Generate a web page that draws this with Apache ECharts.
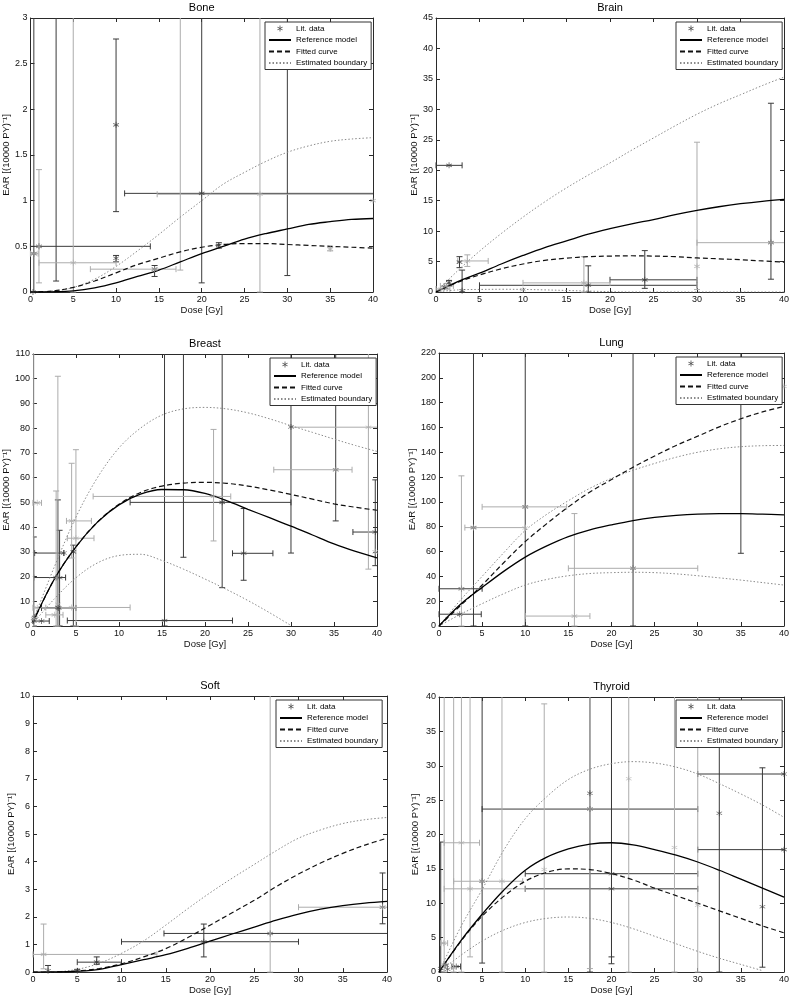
<!DOCTYPE html>
<html><head><meta charset="utf-8">
<script src="https://cdn.jsdelivr.net/npm/echarts/dist/echarts.min.js"></script>
<style>html,body{margin:0;padding:0;background:#fff}#c{width:792px;height:996px}</style>
</head><body><div id="c"></div>
<script>
// ---------- DATA ----------
const doses = [0,2.5,5,7.5,10,12.5,15,17.5,20,22.5,25,27.5,30,32.5,35,37.5,40];
const legendNames = ['Lit. data','Reference model','Fitted curve','Estimated boundary'];
const titles = ['Bone','Brain','Breast','Lung','Soft','Thyroid'];
const xName = 'Dose [Gy]';
const yName = 'EAR [(10000 PY)\u207B\u00B9]';
const yMaxes = [3,45,110,220,10,40];
const yIntervals = [0.5,5,10,20,1,5];

const boneRef = [0,0.002,0.012,0.045,0.1,0.17,0.24,0.33,0.42,0.5,0.58,0.64,0.69,0.74,0.77,0.795,0.805];
const boneFit = [0,0.01,0.05,0.12,0.21,0.3,0.37,0.44,0.49,0.52,0.53,0.53,0.52,0.51,0.5,0.49,0.48];
const boneUp  = [0,0.01,0.05,0.14,0.28,0.45,0.63,0.82,1.0,1.18,1.31,1.43,1.53,1.6,1.65,1.675,1.69];
const boneLow = null;

const brainRef = [0,1.7,3.1,4.6,6.0,7.3,8.4,9.5,10.4,11.2,11.9,12.7,13.4,14.0,14.5,14.9,15.2];
const brainFit = [0,1.6,2.8,3.8,4.6,5.2,5.55,5.8,5.9,5.95,5.9,5.8,5.6,5.45,5.3,5.1,4.9];
const brainUp  = [0,3.5,6.7,9.6,12.3,14.8,17.1,19.2,21.2,23.3,25.3,27.3,29.2,30.9,32.4,33.9,35.3];
const brainLow = [0,0.35,0.42,0.45,0.42,0.35,0.25,0.15,0.05,0,0,0,0,0,0,0,0];

const breastRef = [1.5,19,32,42,49,53.3,55.2,55.1,53.6,50.7,47.2,43.8,40.4,36.8,33.2,30.2,27.6];
const breastFit = [1.5,19,32,42,49.2,54,56.6,57.8,58.1,57.7,56.6,55,53.2,51.3,49.4,48,46.8];
const breastUp  = [2,24,44,60,72,80,85.3,87.8,88.4,87.8,86.2,83.8,81,78.3,75.6,73,70.6];
const breastLow = [1,11,19.5,25.5,28.5,29,26.5,23,19,14.8,10.3,5.4,0.2,null,null,null,null];

const lungRef = [0,17.5,31,44,55.5,64.5,72,77.5,81.5,85,87.5,89.2,90.2,90.5,90.5,90.1,89.5];
const lungFit = [0,16.5,33,51,68,82.5,96,108,118,128,137,145.5,153,160.5,167,172.5,177];
const lungUp  = [0,21,40,59,77,90,101,111,119,125.5,131,136,140,142.8,144.5,145.3,145.5];
const lungLow = [0,9.5,18,26,33,37.5,40.5,42.3,43,43.3,43,42,40.5,38.8,37,35,33];

const softRef = [0,0.003,0.03,0.1,0.27,0.45,0.63,0.86,1.12,1.38,1.63,1.88,2.1,2.28,2.41,2.5,2.56];
const softFit = [0,0.005,0.04,0.13,0.3,0.55,0.85,1.25,1.7,2.15,2.6,3.1,3.55,3.95,4.3,4.6,4.85];
const softUp  = [0,0.01,0.1,0.32,0.68,1.13,1.7,2.3,2.87,3.4,3.9,4.4,4.85,5.15,5.38,5.52,5.6];
const softLow = null;

const thyRef = [0,4.5,8.4,11.9,14.8,16.7,17.9,18.6,18.8,18.5,17.8,17.0,16.0,14.8,13.5,12.2,10.9];
const thyFit = [0,4.4,8.1,11.0,13.2,14.5,15.0,14.9,14.3,13.4,12.2,11.1,10.0,8.9,7.8,6.7,5.7];
const thyUp  = [0,6.5,12,17.7,22.3,25.5,28,29.5,30.3,30.6,30.4,29.8,28.8,27.4,25.9,24.3,22.5];
const thyLow = [0,2.4,4.5,6.1,7.2,7.8,8.0,7.8,7.2,6.3,5.2,4.1,3.0,2.0,1.1,0.2,null];

// literature points: [dose, EAR, EAR low, EAR high, dose low, dose high]; group A / group B
const boneA = [[0.4,0.42,0,99,null,null],[1.0,0.5,null,null,0,14],[3,9,0.12,99,null,null],[10,1.83,0.88,2.77,null,null],
  [10,0.37,0.33,0.40,null,null],[14.5,0.25,0.17,0.29,null,null],[20,1.08,0.1,99,11,99],[22,0.51,0.48,0.54,null,null],
  [30,9,0.18,99,null,null],[0.3,0.0,null,null,null,null]];
const boneB = [[0.4,0.42,null,null,0,0.9],[1.0,0.5,0.1,1.34,null,null],[5,0.32,0,99,1,10],[14.5,0.25,null,null,7,17],
  [17.5,9,0.24,99,null,null],[26.8,1.07,0,99,14.8,99],[35,0.47,0.45,0.49,null,null],[40,1.0,null,null,null,null]];

const brainA = [[1.5,20.8,null,null,0,3],[2.7,4.9,4.0,5.8,null,null],[3,0.2,0,3.6,null,null],[1.5,1.5,1.0,1.9,null,null],
  [1.0,0.8,null,null,null,null],[17.5,1.1,0,4.3,5,30],[24,2.0,0.6,6.8,20,30],[38.5,8.1,2.1,31,null,null]];
const brainB = [[3.6,5.1,4.2,6.1,2.5,6],[0.6,0.5,null,null,0,1.6],[1.2,1.0,0.5,1.4,0.5,2.0],[10,0.4,null,null,null,null],
  [17,1.5,0,5.8,10,20],[30,4.2,0.4,24.6,null,null],[38.5,8.1,null,null,30,99]];

const breastA = [[0.1,2,0,36,null,null],[3.6,29.5,null,null,0.2,3.6],[2.7,19.6,null,null,0.1,3.8],[2.9,7.5,0,51,null,null],
  [3.1,19.5,0,38.7,null,null],[1.0,2.0,null,null,0,1.9],[3.0,7.3,null,null,1.0,5.0],[4.7,30,0,32.7,null,null],
  [15.3,2.2,0,999,4.0,23.2],[17.5,999,27.8,999,null,null],[22,50,15.5,999,11.3,30],[24.5,29.4,18.5,47.5,23.2,27.9],
  [30,80.5,29.5,999,null,null],[35.2,63.2,42.5,999,null,null],[39.8,38,24.4,59.1,37.2,99],[0.2,3.5,null,null,null,null]];
const breastB = [[0.1,3,0,999,null,null],[0.5,49.8,null,null,0,1.0],[2.7,19.6,0,54.6,null,null],[2.9,8.8,0,101,null,null],
  [2.5,4.5,null,null,1.5,3.5],[0.5,7.4,null,null,0,1.5],[4.5,7.5,null,null,3.0,11.3],[4.5,42.5,27.5,65.8,3.9,6.8],
  [5.0,35.5,0,71.3,4.0,7.1],[21,52.4,34.4,79.5,7.0,23.0],[35.2,63.2,null,null,28,37.1],[39,80.4,23,999,30,99],
  [39.8,30,null,null,null,null]];

const lungA = [[2.6,30,null,null,0,5],[2.4,9.5,null,null,0,4.9],[4,79.3,0,999,null,null],[10,96,0,999,null,null],
  [22.5,46.5,0,999,null,null],[35,999,58.6,999,null,null]];
const lungB = [[2.6,30,0,121,null,null],[4,79.3,null,null,3,10],[10,96,null,null,5,14.8],[10,79,null,null,null,null],
  [15.7,8,0,90.6,10,17.5],[22.5,46.5,null,null,15,30],[40,193,null,null,null,null]];

const softA = [[1.7,0.05,0,0.24,null,null],[5,0.05,0,0.1,null,null],[7.2,0.36,0.28,0.55,5,10],[19.3,1.1,0.55,1.74,10,30],
  [26.8,1.4,null,null,14.8,99],[39.5,2.35,1.75,3.59,null,null]];
const softB = [[1.2,0.64,0.12,1.74,0,14],[26.8,1.4,0,99,null,null],[39.5,2.35,null,null,30,99]];

const thyA = [[0.2,0.5,0,18.9,null,null],[5,13.2,1.3,99,null,null],[17.5,26,0,99,null,null],[17.5,23.7,null,null,5,30],
  [20,14.3,2.2,99,10,30],[20,12.1,1.2,99,10,30],[32.5,23.1,0,99,null,null],[37.5,9.5,0.7,29.7,null,null],
  [40,17.8,null,null,30,99],[40,28.8,null,null,30,99],[2,0.8,null,null,1.5,2.5],[0.8,1.0,null,null,null,null],[1.0,0.4,null,null,null,null]];
const thyB = [[2.6,18.8,0,99,0.6,4.7],[3.6,12.1,2.2,99,0.6,10],[5,13.2,null,null,1.7,9.7],[7.3,13.2,0,99,null,null],
  [12.2,14.9,0,39,null,null],[17.5,23.7,0.5,99,null,null],[22,28.1,0,99,null,null],[27.3,18.1,0,99,null,null],
  [30,9.7,0,99,null,null],[0.5,4.2,null,null,0.2,1.0],[1.7,0.6,0,99,null,null],[0.6,1.1,0,99,null,null]];

// ---------- LAYOUT / STYLE ----------
const FONT = "'Liberation Sans', Arial, Helvetica, sans-serif";
const AX = '#2a2a2a', DARK = '#3a3a3a', LIGHT = '#acacac', DOT = '#8a8a8a';
const STAR = 'path://M4.4,0H5.6V10H4.4Z M0.97,1.98L9.63,6.98L9.03,8.02L0.37,3.02Z M0.37,6.98L9.03,1.98L9.63,3.02L0.97,8.02Z';
const grids = [
  {left:26, top:18, width:347, height:274, yGap:15, lg:[265,22]},
  {left:436,top:18, width:350, height:274, yGap:15, lg:[676,22]},
  {left:32, top:354,width:345, height:272, yGap:12, lg:[270,358]},
  {left:439,top:353,width:347, height:273, yGap:19, lg:[676,357]},
  {left:33, top:696,width:354, height:277, yGap:13, lg:[276,700]},
  {left:439,top:697,width:347, height:275, yGap:19, lg:[676,700]}
];
const panelData = [
  [boneRef,boneFit,boneUp,boneLow,boneA,boneB],
  [brainRef,brainFit,brainUp,brainLow,brainA,brainB],
  [breastRef,breastFit,breastUp,breastLow,breastA,breastB],
  [lungRef,lungFit,lungUp,lungLow,lungA,lungB],
  [softRef,softFit,softUp,softLow,softA,softB],
  [thyRef,thyFit,thyUp,thyLow,thyA,thyB]
];

function errRender(pts, col){
  return function(params, api){
    const p = pts[api.value(2)];
    const cs = params.coordSys;
    const x0 = cs.x, x1 = cs.x + cs.width, y0 = cs.y, y1 = cs.y + cs.height;
    const kids = [];
    const seg = (ax,ay,bx,by)=>kids.push({type:'line', shape:{x1:ax,y1:ay,x2:bx,y2:by}, style:{stroke:col, lineWidth:1}, silent:true});
    const cl = (v,a,b)=>Math.max(a, Math.min(b, v));
    const c = api.coord([p[0], p[1]]);
    if (p[2] != null) {
      const px = c[0];
      const lo = api.coord([p[0], p[2]])[1], hi = api.coord([p[0], p[3]])[1];
      if (px >= x0 - 0.5 && px <= x1 + 0.5) {
        const a = cl(lo,y0,y1), b = cl(hi,y0,y1);
        if (Math.abs(a-b) > 0.1) seg(px,a,px,b);
        if (lo >= y0 && lo <= y1) seg(Math.max(x0,px-3),lo,Math.min(x1,px+3),lo);
        if (hi >= y0 && hi <= y1) seg(Math.max(x0,px-3),hi,Math.min(x1,px+3),hi);
      }
    }
    if (p[4] != null) {
      const py = c[1];
      const lo = api.coord([p[4], p[1]])[0], hi = api.coord([p[5], p[1]])[0];
      if (py >= y0 - 0.5 && py <= y1 + 0.5) {
        const a = cl(lo,x0,x1), b = cl(hi,x0,x1);
        if (Math.abs(a-b) > 0.1) seg(a,py,b,py);
        if (lo >= x0 && lo <= x1) seg(lo,Math.max(y0,py-3),lo,Math.min(y1,py+3));
        if (hi >= x0 && hi <= x1) seg(hi,Math.max(y0,py-3),hi,Math.min(y1,py+3));
      }
    }
    return {type:'group', children:kids};
  };
}

const option = {animation:false, backgroundColor:'#fff', grid:[], xAxis:[], yAxis:[], legend:[], series:[]};
const tickStyle = {inside:true, length:4, lineStyle:{color:AX, width:1}};
const lineStyleAx = {onZero:false, lineStyle:{color:AX, width:1}};
grids.forEach((g,i)=>{
  option.grid.push({left:g.left, top:g.top, width:g.width, height:g.height, containLabel:false, show:false});
  option.xAxis.push({gridIndex:i, type:'value', min:0, max:40, interval:5, position:'bottom',
    name:xName, nameLocation:'middle', nameGap:12,
    nameTextStyle:{fontSize:9.5, color:'#111', fontFamily:FONT},
    axisLine:lineStyleAx, axisTick:tickStyle, splitLine:{show:false},
    axisLabel:{fontSize:9, color:'#111', margin:3, fontFamily:FONT}});
  option.xAxis.push({gridIndex:i, type:'value', min:0, max:40, interval:5, position:'top',
    name:titles[i], nameLocation:'middle', nameGap:5,
    nameTextStyle:{fontSize:11, color:'#000', fontFamily:FONT},
    axisLine:lineStyleAx, axisTick:tickStyle, splitLine:{show:false}, axisLabel:{show:false}});
  option.yAxis.push({gridIndex:i, type:'value', min:0, max:yMaxes[i], interval:yIntervals[i], position:'left',
    name:yName, nameLocation:'middle', nameGap:g.yGap,
    nameTextStyle:{fontSize:9.5, color:'#111', fontFamily:FONT},
    axisLine:lineStyleAx, axisTick:tickStyle, splitLine:{show:false},
    axisLabel:{fontSize:9, color:'#111', margin:3, fontFamily:FONT}});
  option.yAxis.push({gridIndex:i, type:'value', min:0, max:yMaxes[i], interval:yIntervals[i], position:'right',
    axisLine:lineStyleAx, axisTick:tickStyle, splitLine:{show:false}, axisLabel:{show:false}});

  const xi = i*2, yi = i*2;
  const [ref, fit, up, low, A, B] = panelData[i];
  const pairs = arr => doses.map((d,k)=>[d, arr[k]]);
  [[A,DARK],[B,LIGHT]].forEach(([pts,col])=>{
    option.series.push({type:'custom', name:'err', xAxisIndex:xi, yAxisIndex:yi, silent:true, z:1,
      data: pts.map((p,k)=>[p[0], p[1], k]), renderItem: errRender(pts, col)});
  });
  const lineCommon = {xAxisIndex:xi, yAxisIndex:yi, smooth:0.35, symbol:'none', showSymbol:false, silent:true};
  option.series.push(Object.assign({type:'line', name:'Estimated boundary', data:pairs(up), z:2,
    itemStyle:{color:DOT, opacity:0}, lineStyle:{color:DOT, width:1, type:[1.5,2]}}, lineCommon));
  if (low) option.series.push(Object.assign({type:'line', name:'Estimated boundary', data:pairs(low), z:2,
    itemStyle:{color:DOT, opacity:0}, lineStyle:{color:DOT, width:1, type:[1.5,2]}}, lineCommon));
  option.series.push(Object.assign({type:'line', name:'Fitted curve', data:pairs(fit), z:3,
    itemStyle:{color:'#111', opacity:0}, lineStyle:{color:'#111', width:1.2, type:[5,3]}}, lineCommon));
  option.series.push(Object.assign({type:'line', name:'Reference model', data:pairs(ref), z:3,
    itemStyle:{color:'#000', opacity:0}, lineStyle:{color:'#000', width:1.3}}, lineCommon));
  option.series.push({type:'scatter', name:'Lit. data', xAxisIndex:xi, yAxisIndex:yi, symbol:STAR, symbolSize:6,
    silent:true, z:4, itemStyle:{color:DARK},
    data: A.map(p=>({value:[p[0],p[1]], itemStyle:{color:DARK}})).concat(B.map(p=>({value:[p[0],p[1]], itemStyle:{color:LIGHT}})))});

  option.legend.push({left:g.lg[0], top:g.lg[1], orient:'vertical', selectedMode:false,
    data:[{name:legendNames[0], icon:STAR, itemStyle:{color:DARK, opacity:1}}, legendNames[1], legendNames[2], legendNames[3]],
    itemWidth:22, itemHeight:6, itemGap:2.5, padding:[2,4,2,3], borderColor:'#333', borderWidth:1, borderRadius:0,
    backgroundColor:'#fff', z:10, itemStyle:{opacity:0},
    textStyle:{fontSize:8, color:'#000', fontFamily:FONT, lineHeight:9}});
});

const chart = echarts.init(document.getElementById('c'), null, {renderer:'canvas'});
chart.setOption(option);
</script></body></html>
